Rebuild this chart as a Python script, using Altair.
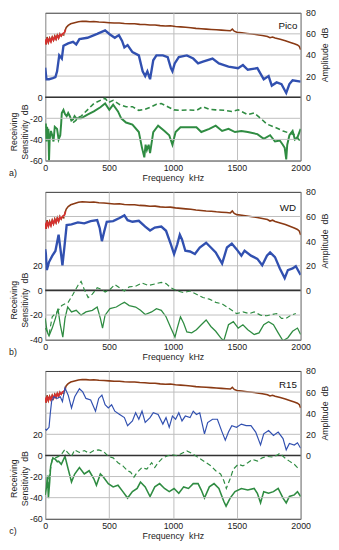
import altair as alt
import pandas as pd

freq_ticks = [0, 500, 1000, 1500, 2000]
right_ticks = [0, 20, 40, 60, 80]
panel_names = ["Pico", "WD", "R15"]
panel_letters = ["a)", "b)", "c)"]

# transmitting amplitude (brown), same shape in all panels
amp_in = [(0, 54), (8, 50), (15, 57), (25, 52), (35, 56), (45, 53), (55, 57), (65, 54), (75, 58),
          (85, 55), (95, 59), (105, 56), (115, 60), (125, 58), (135, 60), (145, 59), (155, 63),
          (165, 66), (180, 68), (200, 69.5), (230, 70.5), (260, 71.5), (290, 72), (320, 71.8),
          (350, 71.5), (380, 71.7), (420, 71.2), (460, 71), (500, 70.6), (540, 70.2), (580, 70.3),
          (620, 69.8), (660, 69.5), (700, 69.6), (740, 69), (780, 68.8), (820, 68.3), (860, 68.4),
          (900, 67.8), (940, 67.5), (980, 67.6), (1020, 67), (1060, 66.6), (1100, 66.2),
          (1140, 65.8), (1180, 65.2), (1220, 64.9), (1260, 64.5), (1300, 64.2), (1340, 63.8),
          (1380, 63.5), (1420, 63.2), (1450, 62.9), (1465, 64.5), (1480, 62.5), (1500, 61.5),
          (1540, 61), (1580, 60.4), (1620, 59.8), (1660, 59.2), (1700, 58.4), (1740, 57.5),
          (1760, 56.3), (1780, 57), (1800, 56), (1840, 54.8), (1880, 53.5), (1920, 51.8),
          (1950, 50.6), (1975, 49.5), (1990, 48), (2000, 45)]
amp_in_red = [(0, 55), (5, 50), (15, 56), (25, 52), (35, 55.5), (45, 52.5), (55, 56.5), (65, 54),
              (75, 57.5), (85, 55), (95, 58.5), (105, 56), (115, 59.5), (125, 58), (135, 60),
              (150, 61), (160, 64)]

pico_blue = [(0, 28), (10, 17), (30, 17), (60, 18), (80, 19), (93, 24.5), (110, 39.6), (130, 36.6),
             (143, 48.7), (180, 51), (218, 52.4), (243, 50), (268, 55), (331, 56.3), (407, 60),
             (469, 63.3), (507, 59.4), (545, 56.3), (577, 58.8), (602, 53.3), (620, 47.2), (645, 49.3),
             (683, 42.7), (733, 39.6), (763, 24.5), (783, 20), (800, 24.5), (821, 17), (846, 35),
             (871, 39.6), (921, 39.6), (959, 38), (984, 27.5), (996, 24.5), (1014, 32), (1046, 38),
             (1109, 39.6), (1159, 36.6), (1197, 32), (1235, 33.6), (1310, 36.6), (1360, 32),
             (1435, 29), (1510, 27.5), (1548, 30.4), (1586, 26), (1661, 27.5), (1711, 17), (1749, 20),
             (1774, 11), (1812, 14), (1850, 12.4), (1887, 4), (1912, 12.4), (1937, 16), (2000, 14.8)]
pico_green = [(0, -30), (5, -25), (10, -42), (15, -28), (20, -38), (25, -30), (30, -60), (35, -40),
              (45, -32), (55, -36), (65, -42), (75, -28), (93, -30), (105, -40), (118, -36), (125, -25),
              (130, -15), (143, -12), (155, -16), (168, -18), (180, -15), (193, -18), (205, -22),
              (218, -21), (230, -18), (243, -20), (281, -20), (331, -16.5), (381, -13.5), (432, -9.5),
              (469, -6), (502, -12), (532, -7), (570, -13.5), (595, -20), (633, -24), (683, -26),
              (733, -33), (758, -48), (776, -57), (786, -45), (796, -50), (810, -45), (821, -53),
              (846, -33), (884, -27), (934, -32), (971, -36), (996, -45), (1021, -33), (1059, -28.5),
              (1122, -28.5), (1184, -28.5), (1222, -33), (1285, -30), (1335, -27), (1385, -32),
              (1435, -30), (1486, -33), (1536, -32), (1586, -33), (1661, -35), (1711, -39.4),
              (1761, -36), (1799, -42), (1837, -41), (1860, -45), (1875, -48), (1887, -59),
              (1895, -45), (1912, -36), (1937, -32), (1955, -40), (1975, -38), (2000, -30)]
pico_dash = [(218, -24), (240, -22), (260, -19), (281, -18), (331, -12), (381, -6), (432, -3),
             (469, -1), (495, -5), (532, -3), (583, -7), (633, -9), (683, -9), (733, -12.5),
             (783, -11.5), (833, -9), (871, -6.7), (909, -6), (959, -9), (1009, -12), (1059, -12.5),
             (1122, -12), (1184, -12.5), (1235, -9), (1285, -11.5), (1335, -12), (1410, -12.5),
             (1461, -13.5), (1511, -12), (1586, -16.5), (1636, -15), (1686, -20), (1736, -25.5),
             (1799, -28.5), (1862, -32), (1912, -34), (1962, -36), (1985, -40), (2000, -42)]

wd_blue = [(0, 33.5), (5, 30), (13, 16.5), (30, 23), (55, 28), (80, 32), (105, 45.2), (118, 34.8),
           (135, 20.4), (150, 34.8), (168, 53), (206, 53.6), (256, 55.2), (306, 54.4), (356, 56.2),
           (407, 57), (427, 50.5), (444, 40), (462, 47.8), (482, 55.7), (532, 56.2), (582, 58.8),
           (620, 60.9), (645, 57), (683, 55.7), (733, 56.5), (783, 51.8), (821, 48.6), (858, 51),
           (909, 51.8), (946, 48.4), (984, 37.4), (1009, 29.5), (1034, 37.4), (1054, 45.2),
           (1071, 41.3), (1097, 32.2), (1134, 31.6), (1172, 29.5), (1210, 34.8), (1260, 38.7),
           (1297, 34.8), (1335, 30.8), (1385, 21.7), (1423, 34.8), (1461, 38), (1498, 33.5),
           (1536, 28.2), (1561, 32.2), (1611, 28.2), (1661, 25.6), (1699, 20.4), (1736, 28.2),
           (1761, 30.8), (1799, 27), (1837, 17.8), (1875, 10), (1900, 16.5), (1937, 17.8),
           (1962, 19.6), (2000, 12.5)]
wd_green = [(0, -22.7), (10, -30), (18, -34.5), (30, -37), (55, -30.6), (80, -22.7), (100, -14.8),
            (118, -27.9), (138, -37.9), (155, -22.7), (176, -13.5), (206, -17.5), (243, -16.2),
            (281, -20.1), (319, -17.5), (369, -16.2), (407, -13.5), (432, -22.7), (449, -30.6),
            (469, -20.1), (507, -14.8), (557, -13.5), (595, -11), (620, -9.7), (658, -12.3),
            (708, -13.5), (746, -16.2), (783, -19.6), (833, -17.5), (871, -14.8), (909, -16.2),
            (946, -21.4), (984, -30.6), (1016, -37.9), (1034, -30.6), (1059, -21.4), (1084, -26.7),
            (1109, -33.7), (1147, -34.5), (1184, -31.9), (1222, -27.9), (1260, -24), (1297, -29.3),
            (1335, -33.2), (1373, -38.4), (1398, -41), (1435, -27.9), (1473, -25.4), (1511, -30.6),
            (1548, -27.9), (1586, -31.9), (1636, -35.8), (1674, -34.5), (1711, -27.9), (1749, -25.4),
            (1787, -27.9), (1824, -34.5), (1862, -41), (1900, -38.4), (1937, -33.2), (1975, -30.6),
            (2000, -35.8)]
wd_dash = [(0, -30.6), (30, -35.8), (55, -21.4), (93, -17.5), (130, -12.3), (180, -9.7), (218, -3.1),
           (256, 4), (281, 7.3), (306, 0.8), (336, -5.8), (369, -3.1), (407, 2.1), (444, 0.8),
           (469, -1.3), (507, 0.8), (545, 4.7), (582, 2.1), (620, -0.5), (658, 2.9), (708, 3.4),
           (758, 6), (808, 4), (858, 5.2), (909, 6.5), (946, 5.5), (984, 2.1), (1034, -0.5),
           (1084, -1.8), (1134, -0.5), (1184, -3.1), (1235, -5.8), (1285, -7.1), (1335, -9.7),
           (1385, -11), (1423, -13.5), (1461, -16.2), (1498, -18.8), (1548, -17.5), (1598, -18.8),
           (1636, -17.5), (1686, -20.1), (1736, -20.6), (1774, -19.6), (1812, -18.8), (1850, -22.7),
           (1887, -22.7), (1925, -20.1), (1962, -18.8)]

r15_blue = [(0, 25), (10, 24), (30, 26.6), (40, 40), (50, 51), (68, 55.6), (93, 54), (118, 55.6),
            (135, 51), (155, 64), (180, 57.1), (206, 45), (231, 55.6), (268, 63.2), (294, 60.2),
            (319, 54), (356, 52.6), (394, 41.9), (419, 54), (444, 57.1), (469, 48), (494, 45),
            (520, 48), (545, 41.9), (583, 38.8), (620, 35.8), (645, 28.2), (683, 32.7), (708, 40.4),
            (733, 34.3), (758, 41.9), (783, 31.2), (821, 35.8), (846, 40.4), (884, 38.8), (921, 29.7),
            (946, 35.8), (971, 26.6), (996, 37.3), (1021, 34.3), (1046, 40.4), (1071, 32.7),
            (1097, 37.3), (1134, 35.8), (1159, 41.9), (1184, 38.8), (1210, 40.4), (1247, 20.5),
            (1272, 31.2), (1310, 34.3), (1348, 34.3), (1385, 22.1), (1410, 14.5), (1435, 22.1),
            (1461, 28.2), (1498, 26.6), (1536, 29.7), (1573, 28.2), (1611, 28.2), (1648, 22.1),
            (1686, 9.9), (1711, 20.5), (1749, 23.6), (1787, 19), (1824, 22.1), (1862, 16), (1887, 5.3),
            (1912, 11.4), (1950, 9.9), (1975, 12), (2000, 6.8)]
r15_green = [(0, -37.4), (10, -30), (18, -19), (25, -40.4), (35, -25), (43, -9.9), (60, -2.3),
             (80, -3.8), (95, -6), (105, -5.4), (126, -8.4), (155, -0.9), (180, -13), (206, -25.2),
             (231, -17.6), (268, -11.5), (306, -17.6), (344, -14.5), (381, -22.1), (401, -28.2),
             (432, -17.6), (457, -20.6), (494, -26.7), (532, -29.8), (570, -28.2), (608, -34.3),
             (645, -40.4), (683, -34.3), (720, -31.3), (746, -25.2), (783, -29.8), (821, -38.9),
             (858, -29.8), (896, -26.7), (934, -31.3), (971, -34.3), (1009, -31.3), (1046, -35.8),
             (1084, -29.8), (1122, -31.3), (1159, -26.7), (1197, -26.7), (1222, -32.8), (1247, -40.4),
             (1285, -29.8), (1322, -26.7), (1360, -31.3), (1398, -43.4), (1416, -48), (1448, -40.4),
             (1486, -34.3), (1536, -31.3), (1586, -32.8), (1636, -31.3), (1661, -35.8), (1686, -44.9),
             (1711, -34.3), (1749, -35.8), (1787, -34.3), (1824, -31.3), (1862, -40.4), (1887, -44.9),
             (1912, -38.9), (1950, -37.4), (1975, -34.3), (2000, -38.9)]
r15_dash = [(20, -30), (30, -20), (55, -3.8), (80, -2.3), (105, -0.9), (130, 1.5), (155, 5.8),
            (180, 2.1), (206, -0.9), (231, 5.2), (268, 2.8), (306, 4.6), (344, 2.1), (381, 4.6),
            (419, 5.2), (457, 3.7), (494, -0.9), (532, -2.3), (570, -6.9), (608, -9.9), (645, -14.5),
            (670, -16), (695, -20.6), (720, -16), (758, -11.5), (796, -13), (833, -6.9), (858, -11.5),
            (884, -6.9), (921, -2.3), (959, -0.3), (996, 0.6), (1034, -0.3), (1071, 2.1), (1109, 4.3),
            (1147, 2.1), (1184, -0.9), (1222, -3.8), (1260, -6.9), (1297, -9.9), (1335, -14.5),
            (1373, -17.6), (1398, -23.7), (1418, -31.3), (1448, -22.1), (1473, -13), (1511, -8.4),
            (1548, -9.9), (1586, -6.9), (1623, -3.8), (1661, -5.4), (1699, -2.3), (1736, -0.9),
            (1774, -1.5), (1812, 0), (1837, 2.1), (1875, -2.3), (1912, -5.4), (1950, -8.4),
            (1975, -11.5), (1988, -13)]

FONT = "Liberation Sans"
GRID = "#bdbdbd"
TXT = "#222222"
BROWN = "#8a3a14"
RED = "#d83030"
BLUE = "#3150b0"
GREEN = "#2f8c42"
W, H = 261, 151


def df(pairs):
    return pd.DataFrame(pairs, columns=["f", "v"])


def panel(idx, ymin, left_max, title_v, blue, green, dash, bw, gw, dw):
    xdef = alt.X("f:Q", scale=alt.Scale(domain=[0, 2000], nice=False, zero=False),
                 axis=alt.Axis(values=freq_ticks, format="d", title="Frequency\u00a0 kHz", grid=True,
                               gridColor=GRID, ticks=False, domain=False, labelPadding=3,
                               titlePadding=1, labelFlush=False, labelOverlap=False))
    yscale = alt.Scale(domain=[ymin, 80], nice=False, zero=False)

    def ydef(axis=None):
        return alt.Y("v:Q", scale=yscale, axis=axis)

    left_axis = alt.Axis(orient="left", values=list(range(ymin, 81, 20)),
                         labelExpr=f"datum.value <= {left_max} ? '' + datum.value : ''",
                         grid=False, ticks=False, domain=False, title=None,
                         labelPadding=3, labelFlush=False, labelOverlap=False)
    right_axis = alt.Axis(orient="right", values=right_ticks, labelExpr="'' + datum.value",
                          grid=False, ticks=False, domain=False, title=None, labelPadding=5,
                          labelFlush=False, labelOverlap=False)

    grid = alt.Chart(pd.DataFrame({"v": list(range(ymin + 20, 80, 20))})).mark_rule(
        color=GRID, strokeWidth=1).encode(y=ydef())
    g = alt.Chart(df(green)).mark_line(color=GREEN, strokeWidth=gw, clip=True).encode(
        x=xdef, y=ydef(left_axis))
    br = alt.Chart(df(amp_in)).mark_line(color=BROWN, strokeWidth=1.6, clip=True).encode(
        x=xdef, y=ydef(right_axis))
    zero = alt.Chart(pd.DataFrame({"v": [0]})).mark_rule(color="#333333", strokeWidth=1.6).encode(
        y=ydef())
    red = alt.Chart(df(amp_in_red)).mark_line(color=RED, strokeWidth=1.6, clip=True).encode(
        x=xdef, y=ydef())
    bl = alt.Chart(df(blue)).mark_line(color=BLUE, strokeWidth=bw, clip=True).encode(
        x=xdef, y=ydef())
    da = alt.Chart(df(dash)).mark_line(color=GREEN, strokeWidth=dw, strokeDash=[5, 3], clip=True).encode(
        x=xdef, y=ydef())
    name = alt.Chart(pd.DataFrame({"f": [1900], "v": [67], "t": [panel_names[idx]]})).mark_text(
        fontSize=10, font=FONT, color="#111111", align="center", baseline="middle").encode(
        x=xdef, y=ydef(), text="t:N")
    t1 = alt.Chart(pd.DataFrame({"v": [title_v]})).mark_text(
        text="Receiving", angle=270, fontSize=9, font=FONT, color=TXT, align="center",
        baseline="middle").encode(x=alt.value(-32), y=ydef())
    t2 = alt.Chart(pd.DataFrame({"v": [title_v]})).mark_text(
        text="Sensitivity\u00a0 dB", angle=270, fontSize=9, font=FONT, color=TXT, align="center",
        baseline="middle").encode(x=alt.value(-21), y=ydef())
    t3 = alt.Chart(pd.DataFrame({"v": [40]})).mark_text(
        text="Amplitude\u00a0 dB", angle=270, fontSize=9, font=FONT, color=TXT, align="center",
        baseline="middle").encode(x=alt.value(W + 25), y=ydef())
    lt = alt.Chart(pd.DataFrame({"t": [panel_letters[idx]]})).mark_text(
        fontSize=9, font=FONT, color=TXT, align="center", baseline="middle").encode(
        x=alt.value(-33), y=alt.value(H + 13), text="t:N")

    return alt.layer(g, br, grid, zero, red, bl, da, name, t1, t2, t3, lt).resolve_scale(
        y="independent").properties(width=W, height=H)


pa = panel(0, -60, 0, -33, pico_blue, pico_green, pico_dash, 2.4, 2.0, 1.6)
pb = panel(1, -40, 20, -8, wd_blue, wd_green, wd_dash, 2.4, 1.3, 1.2)
pc = panel(2, -60, 20, -22, r15_blue, r15_green, r15_dash, 1.2, 1.6, 1.2)

chart = alt.vconcat(pa, pb, pc, spacing=4,
                    padding={"top": -6, "left": 0, "right": 0, "bottom": 0}).configure_view(
    stroke="#333333", strokeWidth=1
).configure_axis(
    labelFont=FONT, titleFont=FONT, labelFontSize=9, titleFontSize=9,
    labelColor=TXT, titleColor=TXT, titleFontWeight="normal"
)

chart.save("out.html", embed_options={"renderer": "svg", "actions": False})
